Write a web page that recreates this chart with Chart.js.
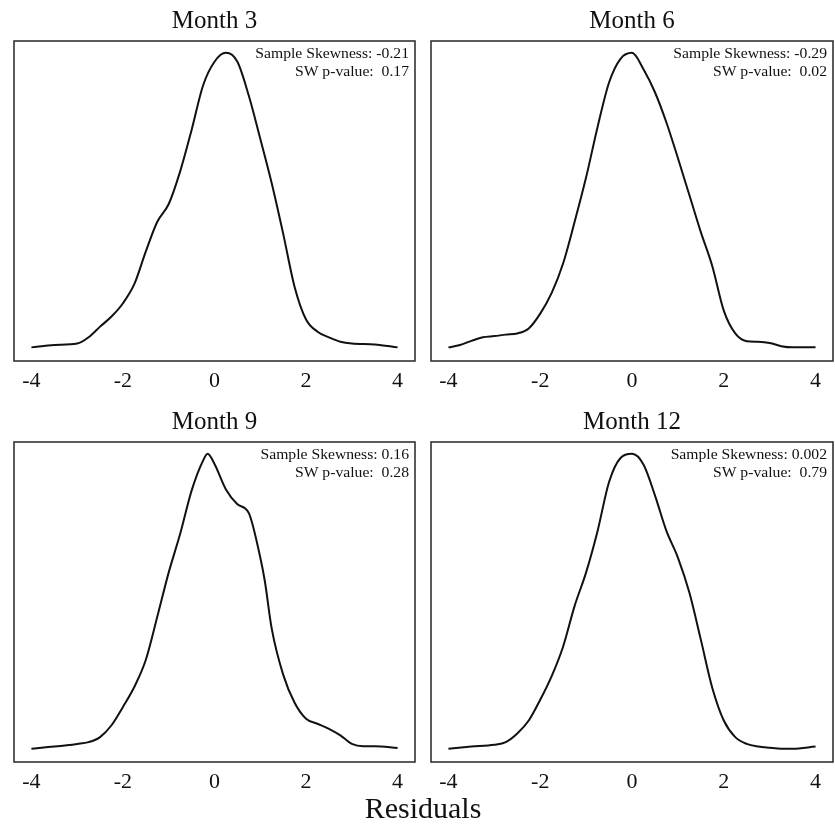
<!DOCTYPE html>
<html>
<head>
<meta charset="utf-8">
<script src="https://cdn.jsdelivr.net/npm/chart.js@4"></script>
<style>
  body { margin: 0; background: #fff; }
  #wrap { position: relative; width: 835px; height: 827px; background: #fff; }
  .panel { position: absolute; width: 418px; height: 400px; }
  #xlabel {
    position: absolute; left: 0; width: 846px; top: 791px; text-align: center;
    font-family: "Liberation Serif", serif; font-size: 30px; color: #111;
  }
</style>
</head>
<body>
<div id="wrap">
  <div class="panel" style="left:0;top:0"><canvas id="c0" width="418" height="400"></canvas></div>
  <div class="panel" style="left:417px;top:0"><canvas id="c1" width="418" height="400"></canvas></div>
  <div class="panel" style="left:0;top:401px"><canvas id="c2" width="418" height="400"></canvas></div>
  <div class="panel" style="left:417px;top:401px"><canvas id="c3" width="418" height="400"></canvas></div>
  <div id="xlabel">Residuals</div>
</div>
<script>
// panel titles and annotation text
const titles = ['Month 3', 'Month 6', 'Month 9', 'Month 12'];
const skewLines = ['Sample Skewness: -0.21', 'Sample Skewness: -0.29', 'Sample Skewness: 0.16', 'Sample Skewness: 0.002'];
const swLines = ['SW p-value:  0.17', 'SW p-value:  0.02', 'SW p-value:  0.28', 'SW p-value:  0.79'];
const tickValues = [-4, -2, 0, 2, 4];

// density curves (relative height)
const x3 = [-4, -3.5, -3, -2.75, -2.5, -2.25, -2, -1.75, -1.5, -1.25, -1, -0.75, -0.5, -0.25, 0, 0.25, 0.5, 0.75, 1, 1.25, 1.5, 1.75, 2, 2.25, 2.5, 2.75, 3, 3.5, 4];
const y3 = [0.006, 0.014, 0.019, 0.04, 0.076, 0.11, 0.155, 0.22, 0.33, 0.43, 0.49, 0.60, 0.74, 0.89, 0.97, 1.0, 0.97, 0.855, 0.71, 0.56, 0.39, 0.21, 0.10, 0.059, 0.04, 0.025, 0.019, 0.016, 0.006];

const x6 = [-4, -3.75, -3.5, -3.25, -3, -2.75, -2.5, -2.25, -2, -1.75, -1.5, -1.25, -1, -0.75, -0.5, -0.25, 0, 0.25, 0.5, 0.75, 1, 1.25, 1.5, 1.75, 2, 2.25, 2.5, 2.75, 3, 3.25, 3.5, 4];
const y6 = [0.006, 0.014, 0.028, 0.04, 0.044, 0.049, 0.053, 0.07, 0.12, 0.19, 0.29, 0.43, 0.58, 0.75, 0.90, 0.98, 1.0, 0.945, 0.867, 0.765, 0.645, 0.52, 0.395, 0.28, 0.13, 0.053, 0.027, 0.025, 0.021, 0.01, 0.006, 0.006];

const x9 = [-4, -3.5, -3, -2.75, -2.5, -2.25, -2, -1.75, -1.5, -1.25, -1, -0.75, -0.5, -0.25, -0.15, 0, 0.25, 0.5, 0.75, 1, 1.1, 1.25, 1.5, 1.75, 2, 2.25, 2.5, 2.75, 3, 3.25, 3.5, 4];
const y9 = [0.005, 0.012, 0.021, 0.027, 0.044, 0.084, 0.146, 0.214, 0.305, 0.45, 0.60, 0.73, 0.876, 0.977, 1.0, 0.966, 0.88, 0.83, 0.80, 0.65, 0.57, 0.41, 0.255, 0.16, 0.106, 0.089, 0.072, 0.05, 0.021, 0.013, 0.013, 0.007];

const x12 = [-4, -3.5, -3, -2.75, -2.5, -2.25, -2, -1.75, -1.5, -1.25, -1, -0.75, -0.5, -0.25, 0, 0.25, 0.5, 0.75, 1, 1.25, 1.5, 1.75, 2, 2.25, 2.5, 2.75, 3, 3.25, 3.5, 4];
const y12 = [0.005, 0.012, 0.018, 0.027, 0.056, 0.10, 0.17, 0.25, 0.35, 0.487, 0.60, 0.74, 0.905, 0.986, 1.0, 0.964, 0.86, 0.74, 0.65, 0.532, 0.373, 0.21, 0.10, 0.044, 0.021, 0.012, 0.008, 0.005, 0.005, 0.012];

const allX = [x3, x6, x9, x12];
const allY = [y3, y6, y9, y12];

function createData(xValues, yValues) {
    return xValues.map((x, i) => ({ x: x, y: yValues[i] }));
}

const serif = '"Liberation Serif", "Times New Roman", serif';

// box around the plot area + the skewness text
const boxPlugin = {
    id: 'boxPlugin',
    afterDraw(chart, args, opts) {
        const a = chart.chartArea;
        const ctx = chart.ctx;
        ctx.save();
        ctx.strokeStyle = '#333';
        ctx.lineWidth = 1.6;
        ctx.strokeRect(a.left, a.top, a.right - a.left, a.bottom - a.top);
        ctx.fillStyle = '#111';
        ctx.font = '14px ' + serif;
        ctx.textAlign = 'right';
        ctx.textBaseline = 'alphabetic';
        ctx.translate(a.right - 6, a.top);
        ctx.scale(1.12, 1);
        ctx.fillText(opts.line1, 0, 17);
        ctx.fillText(opts.line2, 0, 35);
        ctx.restore();
    }
};

for (let i = 0; i < 4; i++) {
    const ctx = document.getElementById('c' + i).getContext('2d');
    const peak = Math.max(...allY[i]);
    new Chart(ctx, {
        type: 'line',
        data: {
            datasets: [{
                data: createData(allX[i], allY[i]),
                borderColor: '#111',
                borderWidth: 2,
                pointRadius: 0,
                cubicInterpolationMode: 'monotone',
                fill: false
            }]
        },
        options: {
            responsive: false,
            animation: false,
            layout: { padding: { left: 14, right: (i % 2 === 0) ? 3 : 2, top: 0, bottom: 0 } },
            scales: {
                x: {
                    type: 'linear',
                    min: -4.38,
                    max: 4.38,
                    afterBuildTicks: (s) => { s.ticks = tickValues.map(v => ({ value: v })); },
                    afterFit: (s) => { s.height = 39; },
                    grid: { display: false, drawTicks: false },
                    border: { display: false },
                    ticks: {
                        color: '#111',
                        padding: 7,
                        maxRotation: 0,
                        autoSkip: false,
                        font: { family: serif, size: 22 }
                    }
                },
                y: {
                    display: false,
                    min: -0.04 * peak,
                    max: 1.04 * peak
                }
            },
            plugins: {
                legend: { display: false },
                tooltip: { enabled: false },
                title: {
                    display: true,
                    text: titles[i],
                    color: '#111',
                    padding: { top: 6, bottom: 5 },
                    font: { family: serif, size: 25, weight: 'normal' }
                },
                boxPlugin: { line1: skewLines[i], line2: swLines[i] }
            }
        },
        plugins: [boxPlugin]
    });
}
</script>
</body>
</html>
